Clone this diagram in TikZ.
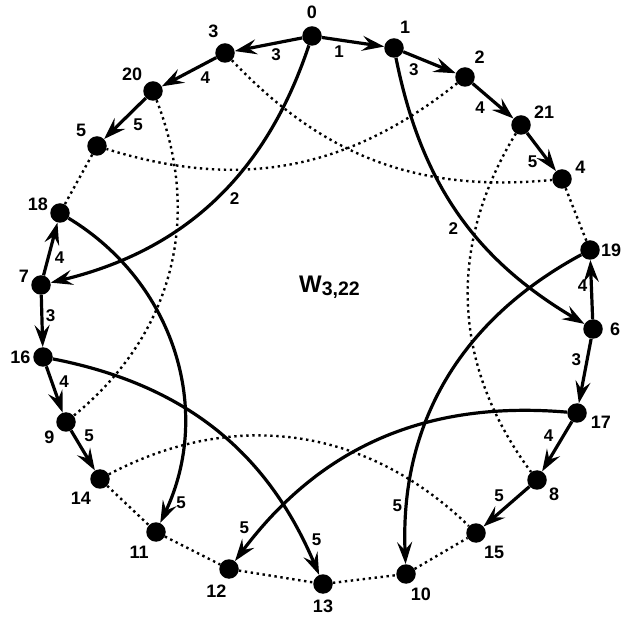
\documentclass[tikz,border=0pt]{standalone}
\usepackage{fontspec}
\setmainfont{Liberation Sans}
\usepackage{tikz}
\usetikzlibrary{arrows.meta}
\newcommand{\nodefont}{\fontsize{18}{18}\selectfont\bfseries}
\newcommand{\edgefont}{\fontsize{17}{17}\selectfont\bfseries}

\tikzset{
  vtx/.style={circle, fill=black, minimum size=19.5pt, inner sep=0pt},
  lbl/.style={font=\nodefont, inner sep=1pt, label distance=3pt},
  elbl/.style={font=\edgefont, inner sep=2.5pt},
  arc/.style={line width=3.2pt, -{Stealth[length=22pt,width=15pt,inset=8pt]}},
  dots/.style={line width=2.4pt, dash pattern=on 2.4pt off 3.6pt},
}

\begin{document}
\begin{tikzpicture}[x=1pt, y=1pt, auto]
    \useasboundingbox (0,0) rectangle (621,616);

    % vertices, clockwise from the top
    \node[vtx, label={[lbl, label distance=6pt]90:0}] (n0) at (312,580) {};
    \node[vtx, label={[lbl, label distance=4pt]69:1}] (n1) at (394,568) {};
    \node[vtx, label={[lbl, label distance=5pt]56:2}] (n2) at (465,539) {};
    \node[vtx, label={[lbl]24:21}] (n21) at (521,491) {};
    \node[vtx, label={[lbl]19:4}] (n4) at (562,437) {};
    \node[vtx, label={[lbl, label distance=0pt]0:19}] (n19) at (590,366) {};
    \node[vtx, label={[lbl, label distance=6pt]0:6}] (n6) at (593,287) {};
    \node[vtx, label={[lbl]-10:17}] (n17) at (577,203) {};
    \node[vtx, label={[lbl]-32:8}] (n8) at (537,136) {};
    \node[vtx, label={[lbl, label distance=4pt]-60:15}] (n15) at (476,83) {};
    \node[vtx, label={[lbl]-74:10}] (n10) at (406,42) {};
    \node[vtx, label={[lbl, label distance=4.5pt]-90:13}] (n13) at (323,32) {};
    \node[vtx, label={[lbl, label distance=4.5pt]-96:12}] (n12) at (229,47) {};
    \node[vtx, label={[lbl, label distance=4.5pt]-115:11}] (n11) at (156,84) {};
    \node[vtx, label={[lbl, label distance=4pt]-125:14}] (n14) at (100,137) {};
    \node[vtx, label={[lbl]-144:9}] (n9) at (66,194) {};
    \node[vtx, label={[lbl, label distance=1.5pt]180:16}] (n16) at (43,259) {};
    \node[vtx, label={[lbl, label distance=1pt]173:7}] (n7) at (41,331) {};
    \node[vtx, label={[lbl, label distance=1pt]176:18}] (n18) at (60,403) {};
    \node[vtx, label={[lbl]139:5}] (n5) at (97,470) {};
    \node[vtx, label={[lbl]138:20}] (n20) at (153,525) {};
    \node[vtx, label={[lbl, label distance=5pt]111:3}] (n3) at (225,563) {};

    \node[inner sep=0pt] (title) at (329.5,329)
        {\fontsize{24}{24}\selectfont\bfseries W\raisebox{-3pt}{\fontsize{19.5}{19.5}\selectfont 3,22}};

    % dotted edges
    \draw[dots] (n5) -- (n18);
    \draw[dots] (n4) -- (n19);
    \draw[dots] (n14) -- (n11);
    \draw[dots] (n11) -- (n12);
    \draw[dots] (n12) -- (n13);
    \draw[dots] (n13) -- (n10);
    \draw[dots] (n10) -- (n15);
    \draw[dots] (n3) to[bend right=26] (n4);
    \draw[dots] (n2) to[bend left=28] (n5);
    \draw[dots] (n20) to[bend left=36] (n9);
    \draw[dots] (n21) to[bend right=34] (n8);
    \draw[dots] (n14) to[bend left=36] (n15);

    % short arcs along the rim
    \draw[arc] (n0) -- node[elbl, swap, pos=.42] {1} (n1);
    \draw[arc] (n0) -- node[elbl, pos=.52] {3} (n3);
    \draw[arc] (n1) -- node[elbl, swap, pos=.37] {3} (n2);
    \draw[arc] (n3) -- node[elbl, pos=.36] {4} (n20);
    \draw[arc] (n2) -- node[elbl, swap, pos=.4] {4} (n21);
    \draw[arc] (n20) -- node[elbl, pos=.4] {5} (n5);
    \draw[arc] (n21) -- node[elbl, swap, pos=.5] {5} (n4);
    \draw[arc] (n7) -- node[elbl, swap, pos=.52] {4} (n18);
    \draw[arc] (n7) -- node[elbl, pos=.39] {3} (n16);
    \draw[arc] (n16) -- node[elbl, pos=.55] {4} (n9);
    \draw[arc] (n9) -- node[elbl, pos=.39] {5} (n14);
    \draw[arc] (n6) -- node[elbl, pos=.56] {4} (n19);
    \draw[arc] (n6) -- node[elbl, swap, pos=.48] {3} (n17);
    \draw[arc] (n17) -- node[elbl, swap, pos=.49] {4} (n8);
    \draw[arc] (n8) -- node[elbl, swap, pos=.47] {5} (n15);

    % long chords
    \draw[arc] (n0) to[bend left=29] node[elbl, pos=.45] {2} (n7);
    \draw[arc] (n1) to[bend right=24] node[elbl, swap, pos=.52] {2} (n6);
    \draw[arc] (n18) to[bend left=42] node[elbl, pos=.91] {5} (n11);
    \draw[arc] (n16) to[bend left=28] node[elbl, pos=.93] {5} (n13);
    \draw[arc] (n19) to[bend right=32] node[elbl, swap, pos=.88] {5} (n10);
    \draw[arc] (n17) to[bend right=29] node[elbl, swap, pos=.93] {5} (n12);
\end{tikzpicture}
\end{document}
